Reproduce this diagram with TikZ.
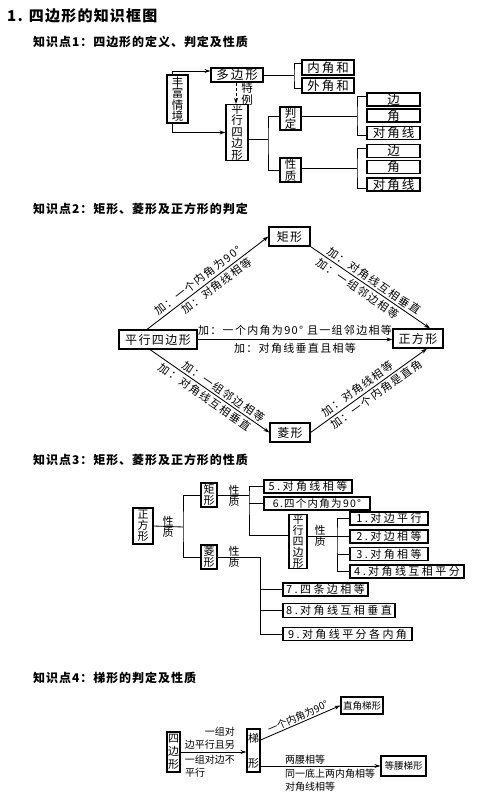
\documentclass[tikz,border=0pt]{standalone}
\usepackage{fontspec}
\setmainfont{Noto Sans CJK SC}
\newfontfamily\fA[LetterSpace=16]{Noto Sans CJK SC}
\newfontfamily\fB[LetterSpace=12]{Noto Sans CJK SC}
\newfontfamily\fC[LetterSpace=22]{Noto Sans CJK SC}
\newfontfamily\fH[LetterSpace=8]{Noto Sans CJK SC}
\usetikzlibrary{arrows.meta}
\begin{document}
\begin{tikzpicture}[x=1pt,y=-1pt,
  box/.style={draw, line width=1.2pt, inner sep=0pt, align=center},
  ln/.style={line width=0.85pt},
  arr/.style={line width=0.85pt,-{Stealth[length=6pt,width=4pt]}},
  t1/.style={font=\fA\fontsize{12.5}{12.5}\selectfont},
  v1/.style={font=\fontsize{11.5}{11.5}\selectfont, align=center},
  t2/.style={font=\fB\fontsize{12}{12}\selectfont},
  l2/.style={font=\fB\fontsize{11}{11}\selectfont, inner sep=2.2pt},
  t3/.style={font=\fC\fontsize{11}{11}\selectfont},
  v3/.style={font=\fontsize{11}{11}\selectfont, align=center, inner sep=0pt},
  t4/.style={font=\fontsize{10}{10}\selectfont, inner sep=0pt},
  t4b/.style={font=\fontsize{9.5}{9.5}\selectfont},
  hd/.style={font=\fH\bfseries\fontsize{12}{12}\selectfont, anchor=west, inner sep=0pt}
]
\fill[white] (0,0) rectangle (482,799);
\useasboundingbox (0,0) rectangle (482,799);

% ---------- headers ----------
\node[hd, font=\fH\bfseries\fontsize{15}{15}\selectfont] (title) at (7,16) {1. 四边形的知识框图};
\node[hd] (h1) at (33,42) {知识点1：四边形的定义、判定及性质};
\node[hd] (h2) at (33,209) {知识点2：矩形、菱形及正方形的判定};
\node[hd] (h3) at (33,460) {知识点3：矩形、菱形及正方形的性质};
\node[hd] (h4) at (33,678) {知识点4：梯形的判定及性质};

% ---------- section 1 ----------
\node[box,v1,minimum width=21pt,minimum height=48pt] (ff) at (177.5,99) {丰\\富\\情\\境};
\node[box,t1,minimum width=52pt,minimum height=14pt] (dbx) at (237,75) {多边形};
\node[box,t1,minimum width=52pt,minimum height=15pt] (njh) at (328,67.5) {内角和};
\node[box,t1,minimum width=52pt,minimum height=15pt] (wjh) at (328,85.5) {外角和};
\node[box,v1,minimum width=22pt,minimum height=53pt] (px1) at (237,132.5) {平\\行\\四\\边\\形};
\node[box,v1,minimum width=21pt,minimum height=23pt] (pd) at (290.5,118.5) {判\\定};
\node[box,v1,minimum width=21pt,minimum height=24pt] (xz) at (290.5,170) {性\\质};
\node[box,t1,minimum width=53pt,minimum height=13pt] (pb) at (393.5,99.5) {边};
\node[box,t1,minimum width=53pt,minimum height=13pt] (pj) at (393.5,115.5) {角};
\node[box,t1,minimum width=53pt,minimum height=13pt] (pdx) at (393.5,133) {对角线};
\node[box,t1,minimum width=53pt,minimum height=13pt] (xb) at (393.5,151) {边};
\node[box,t1,minimum width=53pt,minimum height=13pt] (xj) at (393.5,167) {角};
\node[box,t1,minimum width=53pt,minimum height=13pt] (xdx) at (393.5,184.5) {对角线};
\node[v1, inner sep=0pt] (tl) at (247,94) {特\\例};

\draw[arr, densely dashed] ([xshift=-1pt]dbx.south) -- ([xshift=-1pt]px1.north);
\draw[arr] ([xshift=-5pt]ff.north) |- ([yshift=4pt]dbx.west);
\draw[arr] ([xshift=-5pt]ff.south) |- (px1.west);
\coordinate (k1) at (294,75);
\draw[ln] (dbx.east) -- (k1);
\draw[ln] ([yshift=4.5pt]njh.west) -| (k1) |- ([yshift=-2.5pt]wjh.west);
\coordinate (k2) at (268,139);
\draw[ln] ([yshift=-6.5pt]px1.east) -- (k2);
\draw[ln] ([yshift=2.5pt]pd.west) -| (k2) |- (xz.west);
\coordinate (k3) at (357,116.5);
\draw[ln] ([yshift=2pt]pd.east) -- (k3);
\draw[ln] ([yshift=3.5pt]pb.west) -| (k3) |- ([yshift=-2pt]pdx.west);
\coordinate (k4) at (357,168);
\draw[ln] ([yshift=2pt]xz.east) -- (k4);
\draw[ln] ([yshift=3pt]xb.west) -| (k4) |- ([yshift=-3.5pt]xdx.west);

% ---------- section 2 ----------
\node[box,t2,minimum width=78pt,minimum height=19pt] (px2) at (158,339.5) {平行四边形};
\node[box,t2,minimum width=41pt,minimum height=19pt] (jx2) at (289.5,236.5) {矩形};
\node[box,t2,minimum width=50pt,minimum height=19pt] (zf2) at (418,338.5) {正方形};
\node[box,t2,minimum width=40pt,minimum height=19pt] (lx2) at (290,432.5) {菱形};

\draw[arr] ([xshift=-11pt]px2.north) -- (jx2.west)
  node[l2, pos=.82, sloped, anchor=south east] (l1a) {加：一个内角为90°}
  node[l2, pos=.83, sloped, anchor=north east] (l1b) {加：对角线相等};
\draw[arr] (jx2.south east) -- ([xshift=12pt]zf2.north)
  node[l2, pos=.1, sloped, anchor=south west] (l2a) {加：对角线互相垂直}
  node[l2, pos=.08, sloped, anchor=north west] (l2b) {加：一组邻边相等};
\draw[arr] (px2.east) -- (px2.east -| zf2.west)
  node[l2, midway, above=1.5pt] (l3a) {加：一个内角为90° 且一组邻边相等}
  node[l2, midway, below=1pt] (l3b) {加：对角线垂直且相等};
\draw[arr] ([xshift=-8pt]px2.south) -- (lx2.west)
  node[l2, pos=.58, sloped, above] (l4a) {加：一组邻边相等}
  node[l2, pos=.5, sloped, below] (l4b) {加：对角线互相垂直};
\draw[arr] (lx2.east) -- ([xshift=9pt]zf2.south)
  node[l2, pos=.13, sloped, anchor=south west] (l5a) {加：对角线相等}
  node[l2, pos=.13, sloped, anchor=north west] (l5b) {加：一个内角是直角};

% ---------- section 3 ----------
\node[box,v3,minimum width=20pt,minimum height=36pt] (zf3) at (143,526) {正\\方\\形};
\node[v3] (xz3a) at (168,527) {性\\质};
\node[box,v3,minimum width=16pt,minimum height=24pt] (jx3) at (209,495) {矩\\形};
\node[box,v3,minimum width=16pt,minimum height=24pt] (lx3) at (209,557) {菱\\形};
\node[v3] (xz3b) at (234,495.5) {性\\质};
\node[v3] (xz3c) at (234,557) {性\\质};
\node[box,t3,minimum width=88pt,minimum height=13pt] (b5) at (308,486.5) {5.对角线相等};
\node[box,t2,font=\fB\fontsize{10.5}{10.5}\selectfont,minimum width=106pt,minimum height=13pt] (b6) at (317,503.5) {6.四个内角为90°};
\node[box,v3,minimum width=18pt,minimum height=53pt] (px3) at (298,541.5) {平\\行\\四\\边\\形};
\node[v3] (xz3d) at (320,536) {性\\质};
\node[box,t3,minimum width=78pt,minimum height=13pt] (b1) at (389,518.5) {1.对边平行};
\node[box,t3,minimum width=78pt,minimum height=13pt] (b2) at (389,536.5) {2.对边相等};
\node[box,t3,minimum width=78pt,minimum height=13pt] (b3) at (389,554) {3.对角相等};
\node[box,t3,minimum width=114pt,minimum height=13pt] (b4) at (407,571.5) {4.对角线互相平分};
\node[box,t3,minimum width=85pt,minimum height=13pt] (b7) at (325.5,589.5) {7.四条边相等};
\node[box,t3,minimum width=112pt,minimum height=14pt] (b8) at (339,610.5) {8.对角线互相垂直};
\node[box,t3,minimum width=129pt,minimum height=13pt] (b9) at (347.5,634) {9.对角线平分各内角};

\coordinate (v3a) at (183,527);
\draw[ln] (zf3.east) -- (v3a);
\draw[ln] (jx3.west) -| (v3a) |- (lx3.west);
\coordinate (v3b) at (249,495);
\draw[ln] (jx3.east) -- (v3b);
\draw[ln] (b5.west) -| (v3b) |- ([yshift=6pt]px3.west);
\draw[ln] (b6.west) -- (b6.west -| v3b);
\coordinate (v3c) at (337,536);
\draw[ln] ([yshift=5.5pt]px3.east) -- (v3c);
\draw[ln] (b1.west) -| (v3c) |- (b4.west);
\draw[ln] (b2.west) -- (b2.west -| v3c);
\draw[ln] (b3.west) -- (b3.west -| v3c);
\coordinate (v3d) at (260,557);
\draw[ln] (lx3.east) -- (v3d) |- (b9.west);
\draw[ln] (b7.west) -- (b7.west -| v3d);
\draw[ln] (b8.west) -- (b8.west -| v3d);

% ---------- section 4 ----------
\node[box,font=\fontsize{11}{13}\selectfont,minimum width=13pt,minimum height=40pt] (sb4) at (173.5,752) {四\\边\\形};
\node[box,font=\fontsize{11}{25}\selectfont,minimum width=13pt,minimum height=43pt] (tx4) at (253.5,750.5) {梯\\形};
\node[box,t4b,minimum width=42pt,minimum height=17pt] (zj4) at (362,705.5) {直角梯形};
\node[box,t4b,minimum width=45pt,minimum height=20pt] (dy4) at (403.5,766) {等腰梯形};

\draw[arr] (sb4.east) -- (sb4.east -| tx4.west);
\node[t4, anchor=east] (a1) at (235,732) {一组对};
\node[t4, anchor=east] (a2) at (235,744.5) {边平行且另};
\node[t4, anchor=east] (a3) at (235,760) {一组对边不};
\node[t4, anchor=west] (a4) at (185,773) {平行};
\draw[arr] ([yshift=10.5pt]tx4.east) -- (zj4.west)
  node[t4, midway, sloped, above=1.5pt] (a5) {一个内角为90°};
\draw[arr] ([yshift=-15.5pt]tx4.east) -- (dy4.west);
\node[t4, anchor=west] (a6) at (285,760) {两腰相等};
\node[t4, anchor=west] (a7) at (285,773.5) {同一底上两内角相等};
\node[t4, anchor=west] (a8) at (285,787) {对角线相等};
\end{tikzpicture}
\end{document}
